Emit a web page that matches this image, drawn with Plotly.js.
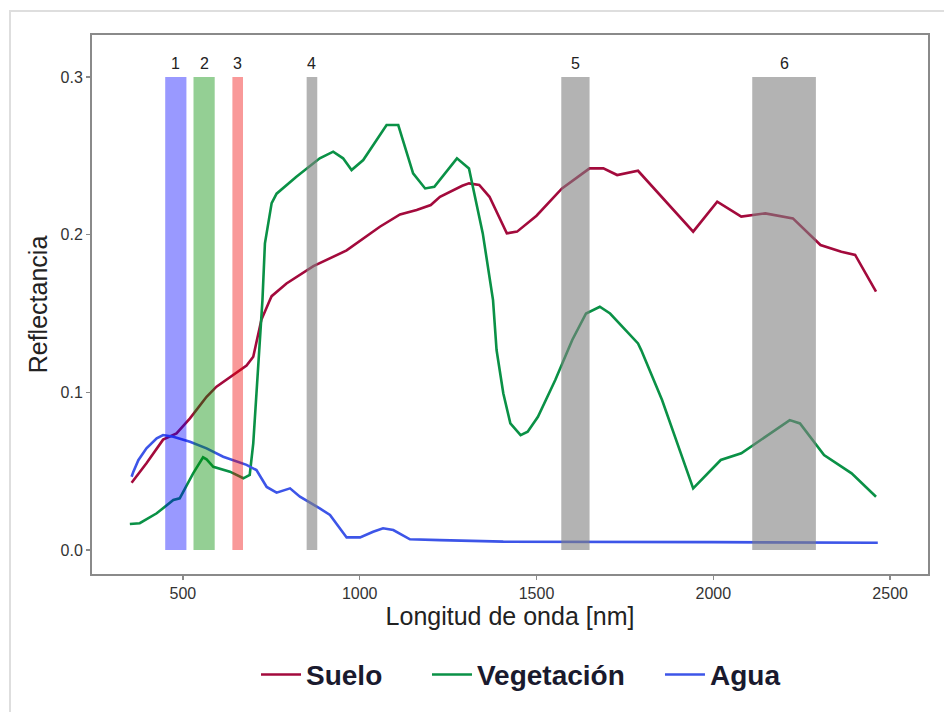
<!DOCTYPE html>
<html>
<head>
<meta charset="utf-8">
<script src="https://cdn.plot.ly/plotly-3.0.1.min.js"></script>
<style>
  html, body { margin: 0; padding: 0; background: #fff; overflow: hidden; }
  #chart { width: 944px; height: 712px; }
  #frame { position: absolute; left: 9px; top: 10px; width: 980px; height: 740px;
           border: 2px solid #dedede; pointer-events: none; }
</style>
</head>
<body>
<div id="chart"></div>
<div id="frame"></div>
<script>
// Wavelength (nm) and reflectance for each series
const sueloX = [355, 397, 444, 482, 520, 567, 595, 642, 680, 699, 708, 722, 746, 751, 793, 869, 963, 1057, 1114, 1161, 1201, 1227, 1290, 1309, 1338, 1367, 1416, 1445, 1500, 1572, 1650, 1689, 1728, 1787, 1943, 2011, 2079, 2147, 2225, 2303, 2362, 2401, 2460];
const sueloY = [0.0427, 0.055, 0.070, 0.074, 0.0835, 0.0972, 0.1036, 0.111, 0.117, 0.1226, 0.131, 0.146, 0.1585, 0.161, 0.169, 0.180, 0.190, 0.205, 0.2128, 0.2156, 0.2188, 0.224, 0.231, 0.2325, 0.2315, 0.224, 0.2008, 0.2019, 0.212, 0.2293, 0.242, 0.242, 0.2378, 0.2405, 0.2019, 0.2209, 0.2114, 0.2135, 0.2103, 0.1934, 0.1892, 0.1871, 0.1638];

const vegX = [350, 378, 426, 473, 491, 529, 557, 567, 586, 633, 671, 689, 699, 713, 725, 732, 751, 765, 821, 887, 925, 953, 977, 1010, 1076, 1109, 1151, 1185, 1211, 1275, 1309, 1348, 1357, 1377, 1387, 1406, 1426, 1455, 1475, 1504, 1553, 1601, 1640, 1679, 1708, 1787, 1796, 1855, 1943, 2021, 2079, 2216, 2245, 2313, 2391, 2460];
const vegY = [0.0165, 0.017, 0.0233, 0.0317, 0.0328, 0.0486, 0.0588, 0.0575, 0.0528, 0.0497, 0.0455, 0.0476, 0.0677, 0.1162, 0.1585, 0.1945, 0.22, 0.226, 0.2367, 0.2484, 0.2526, 0.2484, 0.241, 0.2473, 0.2695, 0.2695, 0.2389, 0.2293, 0.2304, 0.2484, 0.242, 0.2008, 0.1881, 0.1585, 0.1268, 0.0994, 0.0803, 0.0729, 0.075, 0.0845, 0.1078, 0.1332, 0.150, 0.1543, 0.150, 0.131, 0.1268, 0.0951, 0.0391, 0.0571, 0.0613, 0.0824, 0.0803, 0.0602, 0.0486, 0.0338];

const aguaX = [355, 360, 374, 397, 426, 444, 473, 520, 567, 614, 680, 708, 737, 765, 803, 831, 887, 916, 963, 1001, 1038, 1066, 1095, 1142, 1227, 1406, 2000, 2465];
const aguaY = [0.0465, 0.0497, 0.057, 0.0645, 0.0708, 0.0729, 0.0719, 0.0687, 0.0645, 0.0592, 0.054, 0.0507, 0.040, 0.0364, 0.0391, 0.0338, 0.0264, 0.0222, 0.008, 0.008, 0.0116, 0.0138, 0.0127, 0.0068, 0.0063, 0.0053, 0.005, 0.0046];

// Spectral bands (nm)
const bandLabels = ["1", "2", "3", "4", "5", "6"];
const bandStart = [450, 530, 640, 850, 1570, 2110];
const bandEnd = [510, 590, 670, 880, 1650, 2290];
const bandTop = 0.3;
const bandColors = ["rgba(0,0,255,0.4)", "rgba(0,140,0,0.42)", "rgba(240,0,0,0.4)",
                    "rgba(128,128,128,0.6)", "rgba(128,128,128,0.6)", "rgba(128,128,128,0.6)"];

const xTicks = [500, 1000, 1500, 2000, 2500];
const yTicks = [0.0, 0.1, 0.2, 0.3];
const yTickText = ["0.0", "0.1", "0.2", "0.3"];

const font = "Liberation Sans, Arial, sans-serif";

const traces = [
  {x: sueloX, y: sueloY, name: "Suelo", type: "scatter", mode: "lines", legend: "legend",
   line: {color: "#a30a3c", width: 2.6}},
  {x: vegX, y: vegY, name: "Vegetación", type: "scatter", mode: "lines", legend: "legend2",
   line: {color: "#0a9146", width: 2.6}},
  {x: aguaX, y: aguaY, name: "Agua", type: "scatter", mode: "lines", legend: "legend3",
   line: {color: "#3d55e8", width: 2.6}}
];

const shapes = bandLabels.map((l, i) => ({
  type: "rect", xref: "x", yref: "y", layer: "above",
  x0: bandStart[i], x1: bandEnd[i], y0: 0, y1: bandTop,
  fillcolor: bandColors[i], line: {width: 0}
}));

const annotations = bandLabels.map((l, i) => ({
  x: (bandStart[i] + bandEnd[i]) / 2, y: bandTop, yanchor: "bottom", yshift: 3,
  xref: "x", yref: "y", text: l, showarrow: false,
  font: {family: font, size: 16, color: "#222"}
}));

const legendFont = {family: "Liberation Sans, Arial, sans-serif", size: 28, color: "#1a1a2e", weight: "bold"};
function legendAt(x) {
  return {orientation: "h", x: x, xanchor: "left", y: -0.187, yanchor: "middle",
          font: legendFont, itemwidth: 40, bgcolor: "rgba(0,0,0,0)"};
}

const layout = {
  width: 944, height: 712,
  margin: {l: 92, r: 16, t: 35, b: 138},
  paper_bgcolor: "rgba(0,0,0,0)",
  plot_bgcolor: "#ffffff",
  showlegend: true,
  xaxis: {
    range: [243, 2607], tickvals: xTicks, ticktext: xTicks.map(String),
    showgrid: false, zeroline: false,
    showline: true, mirror: true, linecolor: "#8a8a8a", linewidth: 2,
    ticks: "outside", ticklen: 4, tickcolor: "#8a8a8a", tickwidth: 1.5,
    tickfont: {family: font, size: 16, color: "#333"},
    title: {text: "Longitud de onda [nm]", standoff: 2,
            font: {family: font, size: 25, color: "#222"}}
  },
  yaxis: {
    range: [-0.0152, 0.3266], tickvals: yTicks, ticktext: yTickText,
    showgrid: false, zeroline: false,
    showline: true, mirror: true, linecolor: "#8a8a8a", linewidth: 2,
    ticks: "outside", ticklen: 4, tickcolor: "#8a8a8a", tickwidth: 1.5,
    tickfont: {family: font, size: 16, color: "#333"},
    title: {text: "Reflectancia", standoff: 6,
            font: {family: font, size: 25, color: "#222"}}
  },
  legend: legendAt(0.1962),
  legend2: legendAt(0.4007),
  legend3: legendAt(0.6794),
  shapes: shapes,
  annotations: annotations
};

Plotly.newPlot("chart", traces, layout, {displayModeBar: false, staticPlot: true});
</script>
</body>
</html>
